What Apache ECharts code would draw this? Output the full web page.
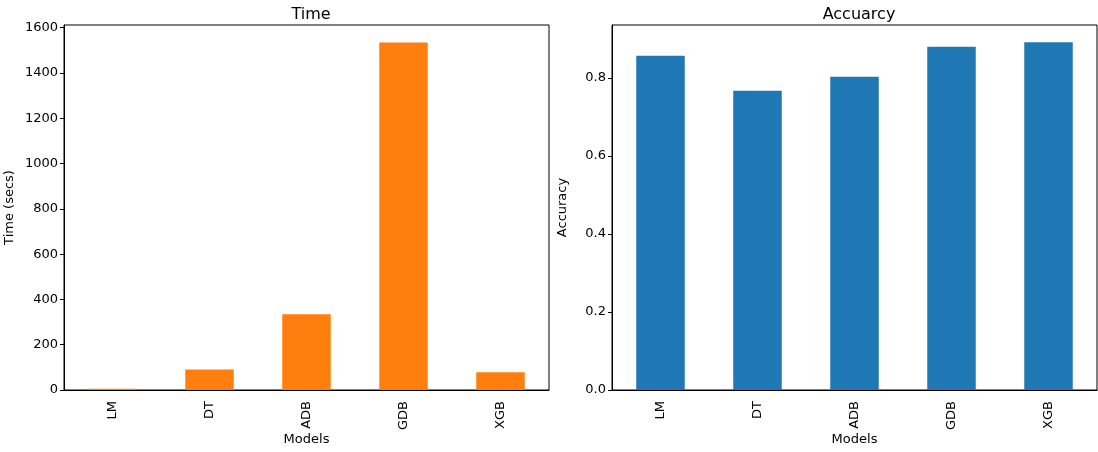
<!DOCTYPE html>
<html>
<head>
<meta charset="utf-8">
<script src="https://cdn.jsdelivr.net/npm/echarts@6/dist/echarts.min.js"></script>
<style>
html,body{margin:0;padding:0;background:#fff;}
#c{width:1098px;height:452px;}
</style>
</head>
<body>
<div id="c"></div>
<script>
const models = ['LM', 'DT', 'ADB', 'GDB', 'XGB'];
const timeSecs = [6, 91, 335, 1535, 78];
const accuracy = [0.857, 0.767, 0.803, 0.880, 0.891];
const timeTicks = [0, 200, 400, 600, 800, 1000, 1200, 1400, 1600];
const accTicks = [0, 0.2, 0.4, 0.6, 0.8];

const FONT = 'DejaVu Sans';
const chart = echarts.init(document.getElementById('c'), null, {renderer: 'canvas'});

function xAxis(gi) {
  return {
    type: 'category', gridIndex: gi, data: models,
    name: 'Models', nameLocation: 'middle', nameGap: 43, nameMoveOverlap: false,
    nameTextStyle: {fontFamily: FONT, fontSize: 13, color: '#000'},
    axisLine: {lineStyle: {color: '#000', width: 1}},
    axisTick: {alignWithLabel: true, length: 4, lineStyle: {color: '#000'}},
    axisLabel: {rotate: 90, fontFamily: FONT, fontSize: 13, color: '#000', margin: 11},
    splitLine: {show: false}
  };
}
function yAxis(gi, max, ticks, name, gap, fmt) {
  return {
    type: 'value', gridIndex: gi, min: 0, max: max,
    name: name, nameLocation: 'middle', nameGap: gap, nameRotate: 90, nameMoveOverlap: false,
    nameTextStyle: {fontFamily: FONT, fontSize: 13, color: '#000'},
    axisLine: {show: true, lineStyle: {color: '#000', width: 1}},
    axisTick: {show: true, length: 4, customValues: ticks, lineStyle: {color: '#000'}},
    axisLabel: {customValues: ticks, fontFamily: FONT, fontSize: 13, color: '#000', margin: 6, formatter: fmt},
    splitLine: {show: false}
  };
}

chart.setOption({
  animation: false,
  backgroundColor: '#fff',
  title: [
    {text: 'Time', left: 306, top: 2, textAlign: 'center',
     textStyle: {fontFamily: FONT, fontSize: 16, fontWeight: 'normal', color: '#000'}},
    {text: 'Accuarcy', left: 854, top: 2, textAlign: 'center',
     textStyle: {fontFamily: FONT, fontSize: 16, fontWeight: 'normal', color: '#000'}}
  ],
  grid: [
    {left: 64, top: 25, width: 485, height: 365, show: true, borderColor: '#000', borderWidth: 1,
     containLabel: false, outerBoundsMode: 'none'},
    {left: 612, top: 25, width: 485, height: 365, show: true, borderColor: '#000', borderWidth: 1,
     containLabel: false, outerBoundsMode: 'none'}
  ],
  xAxis: [xAxis(0), xAxis(1)],
  yAxis: [
    yAxis(0, 1612, timeTicks, 'Time (secs)', 48, v => String(v)),
    yAxis(1, 0.9355, accTicks, 'Accuracy', 43, v => v.toFixed(1))
  ],
  series: [
    {type: 'bar', xAxisIndex: 0, yAxisIndex: 0, data: timeSecs, barWidth: '50%',
     itemStyle: {color: '#ff7f0e'}},
    {type: 'bar', xAxisIndex: 1, yAxisIndex: 1, data: accuracy, barWidth: '50%',
     itemStyle: {color: '#1f77b4'}}
  ]
});
</script>
</body>
</html>
